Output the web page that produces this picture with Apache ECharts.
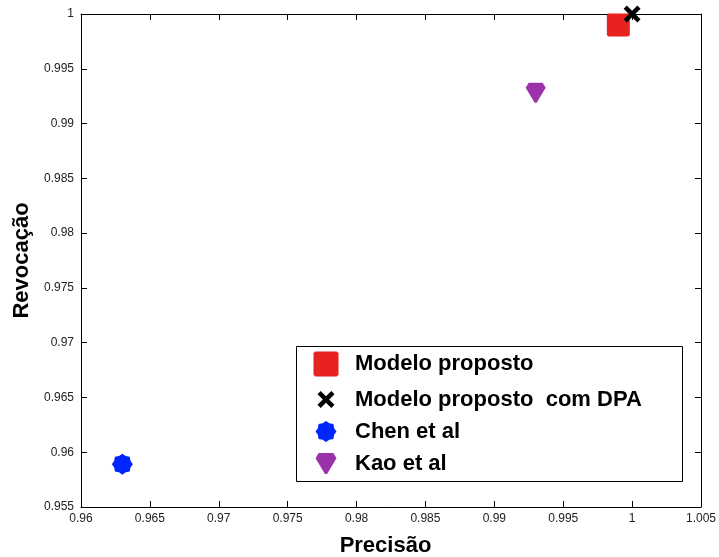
<!DOCTYPE html>
<html>
<head>
<meta charset="utf-8">
<script src="https://cdn.jsdelivr.net/npm/echarts@6/dist/echarts.min.js"></script>
<style>
  html, body { margin: 0; padding: 0; background: #fff; }
  #chart { width: 719px; height: 557px; }
</style>
</head>
<body>
<div id="chart"></div>
<script>
// Method names and their (precision, recall) results
const methodNames = ['Modelo proposto', 'Modelo proposto  com DPA', 'Chen et al', 'Kao et al'];
const precisionValues = [0.999, 1.000, 0.963, 0.993];
const recallValues = [0.999, 1.000, 0.959, 0.993];

// Axis ranges and tick step
const xRange = [0.96, 1.005];
const yRange = [0.955, 1.0];
const tickStep = 0.005;

const colors = ['#e8231f', '#000000', '#0026ff', '#9b32aa'];

// Marker shapes
function jaggedDisc(n) {
  // filled disc with a notched edge
  let d = '';
  for (let i = 0; i < n * 2; i++) {
    const a = Math.PI * i / n;
    const r = i % 2 === 0 ? 10 : 8.4;
    const x = (10 + r * Math.cos(a)).toFixed(2);
    const y = (10 + r * Math.sin(a)).toFixed(2);
    d += (i === 0 ? 'M' : 'L') + x + ',' + y + ' ';
  }
  return 'path://' + d + 'Z';
}
const symbols = [
  'path://M1.5,0 L20.5,0 L22,1.5 L22,20.5 L20.5,22 L1.5,22 L0,20.5 L0,1.5 Z',
  'path://M0,3 L3,0 L8,5 L13,0 L16,3 L11,8 L16,13 L13,16 L8,11 L3,16 L0,13 L5,8 Z',
  jaggedDisc(8),
  'path://M3,0 L17,0 L20,5 L11,20 L9,20 L0,5 Z'
];
const symbolSizes = [23, 17, 21, 20];
const symbolOffsets = [[0, 0], [0, 0], [0, 1], [0, 2]];
const legendIconSizes = [25, 17, 21, 21];

function fmt(v) {
  return String(parseFloat(v.toFixed(3)));
}

const tickFont = { fontFamily: 'Liberation Sans, Arial, sans-serif', fontSize: 12, color: '#222' };
const titleFont = { fontFamily: 'Liberation Sans, Arial, sans-serif', fontWeight: 'bold', fontSize: 22, color: '#000' };

const series = methodNames.map((name, i) => ({
  name: name,
  type: 'scatter',
  symbol: symbols[i],
  symbolSize: symbolSizes[i],
  symbolOffset: symbolOffsets[i],
  itemStyle: { color: colors[i], opacity: 1 },
  data: [[precisionValues[i], recallValues[i]]],
  z: 10
}));
// the cross is drawn on top of the square
series[1].z = 12;

const legendRowsCenter = [364, 397, 431, 463];
const legendIconCenterX = 326;
const legendTextLeft = 355;
const legends = methodNames.map((name, i) => {
  const w = legendIconSizes[i];
  return {
    data: [name],
    orient: 'vertical',
    left: legendIconCenterX - w / 2,
    top: legendRowsCenter[i] - w / 2,
    padding: 0,
    itemWidth: w,
    itemHeight: w,
    selectedMode: false,
    z: 20,
    textStyle: {
      fontFamily: 'Liberation Sans, Arial, sans-serif',
      fontWeight: 'bold',
      fontSize: 22,
      color: '#000',
      padding: [0, 0, 0, legendTextLeft - (legendIconCenterX + w / 2) - 5]
    }
  };
});

const frameAxis = {
  axisLine: { show: true, onZero: false, lineStyle: { color: '#000', width: 1 } },
  axisTick: { show: true, inside: true, length: 6, lineStyle: { color: '#000' } },
  splitLine: { show: false }
};

const chart = echarts.init(document.getElementById('chart'), null, { renderer: 'canvas' });
chart.setOption({
  animation: false,
  backgroundColor: '#fff',
  grid: { left: 81, right: 18, top: 14, bottom: 50, containLabel: false, outerBoundsMode: 'none' },
  xAxis: [Object.assign({
    type: 'value', min: xRange[0], max: xRange[1], interval: tickStep,
    name: 'Precisão', nameLocation: 'middle', nameGap: 28,
    nameTextStyle: Object.assign({ padding: [0, 11, 0, 0] }, titleFont),
    axisLabel: Object.assign({ formatter: fmt, margin: 6 }, tickFont)
  }, frameAxis), Object.assign({
    type: 'value', position: 'top', min: xRange[0], max: xRange[1], interval: tickStep,
    axisLabel: { show: false }
  }, frameAxis)],
  yAxis: [Object.assign({
    type: 'value', min: yRange[0], max: yRange[1], interval: tickStep,
    name: 'Revocação', nameLocation: 'middle', nameGap: 46, nameRotate: 90,
    nameTextStyle: titleFont,
    axisLabel: Object.assign({ formatter: fmt, margin: 7 }, tickFont)
  }, frameAxis), Object.assign({
    type: 'value', position: 'right', min: yRange[0], max: yRange[1], interval: tickStep,
    axisLabel: { show: false }
  }, frameAxis)],
  legend: legends,
  graphic: [{
    type: 'rect', left: 296, top: 346, z: 15,
    shape: { width: 386, height: 135 },
    style: { fill: '#fff', stroke: '#000', lineWidth: 1 }
  }],
  series: series
});
</script>
</body>
</html>
